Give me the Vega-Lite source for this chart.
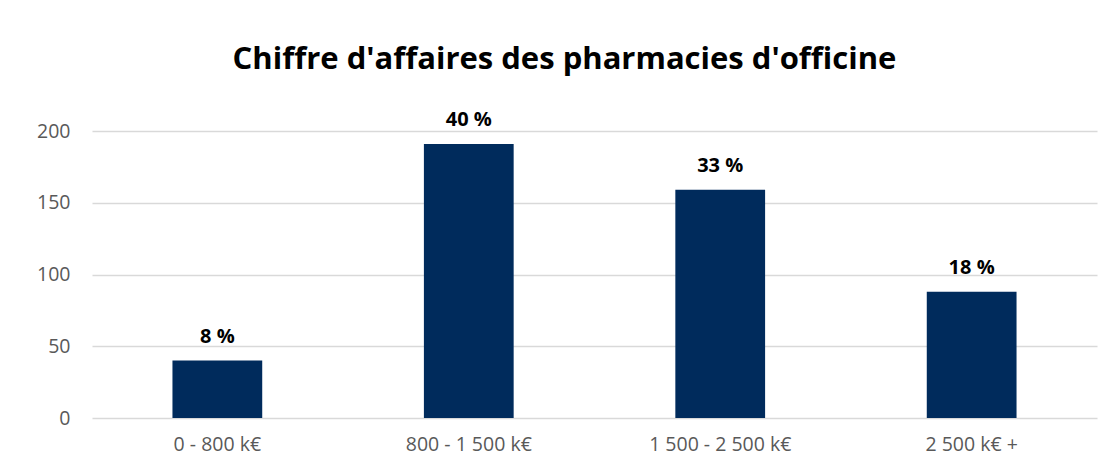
{
  "$schema": "https://vega.github.io/schema/vega-lite/v6.json",
  "autosize": "none",
  "width": 1005,
  "height": 287,
  "padding": {"left": 92, "top": 131, "right": 17, "bottom": 55},
  "background": "white",
  "title": {
    "text": "Chiffre d'affaires des pharmacies d'officine",
    "font": "Open Sans",
    "fontSize": 31,
    "fontWeight": "bold",
    "color": "#000000",
    "anchor": "middle",
    "dx": -30,
    "offset": 34
  },
  "data": {
    "values": [
      {"tranche": "0 - 800 k€", "nombre": 40, "label": "8 %"},
      {"tranche": "800 - 1 500 k€", "nombre": 191, "label": "40 %"},
      {"tranche": "1 500 - 2 500 k€", "nombre": 159, "label": "33 %"},
      {"tranche": "2 500 k€ +", "nombre": 88, "label": "18 %"}
    ]
  },
  "encoding": {
    "x": {
      "field": "tranche",
      "type": "nominal",
      "sort": null,
      "scale": {"paddingInner": 0.643, "paddingOuter": 0.32},
      "axis": {
        "title": null,
        "labelAngle": 0,
        "domain": false,
        "ticks": false,
        "labelFont": "Open Sans",
        "labelFontSize": 19.5,
        "labelColor": "#595959",
        "labelPadding": 17
      }
    },
    "y": {
      "field": "nombre",
      "type": "quantitative",
      "scale": {"domain": [0, 200], "nice": false},
      "axis": {
        "title": null,
        "values": [0, 50, 100, 150, 200],
        "domain": false,
        "ticks": false,
        "gridColor": "#d9d9d9",
        "gridWidth": 1.5,
        "labelFont": "Open Sans",
        "labelFontSize": 19.5,
        "labelColor": "#595959",
        "labelPadding": 22
      }
    }
  },
  "layer": [
    {"mark": {"type": "bar", "color": "#002b5c"}},
    {
      "mark": {
        "type": "text",
        "baseline": "alphabetic",
        "dy": -18,
        "font": "Open Sans",
        "fontSize": 20,
        "fontWeight": "bold",
        "color": "#000000"
      },
      "encoding": {"text": {"field": "label"}}
    }
  ],
  "config": {"view": {"stroke": null}}
}
